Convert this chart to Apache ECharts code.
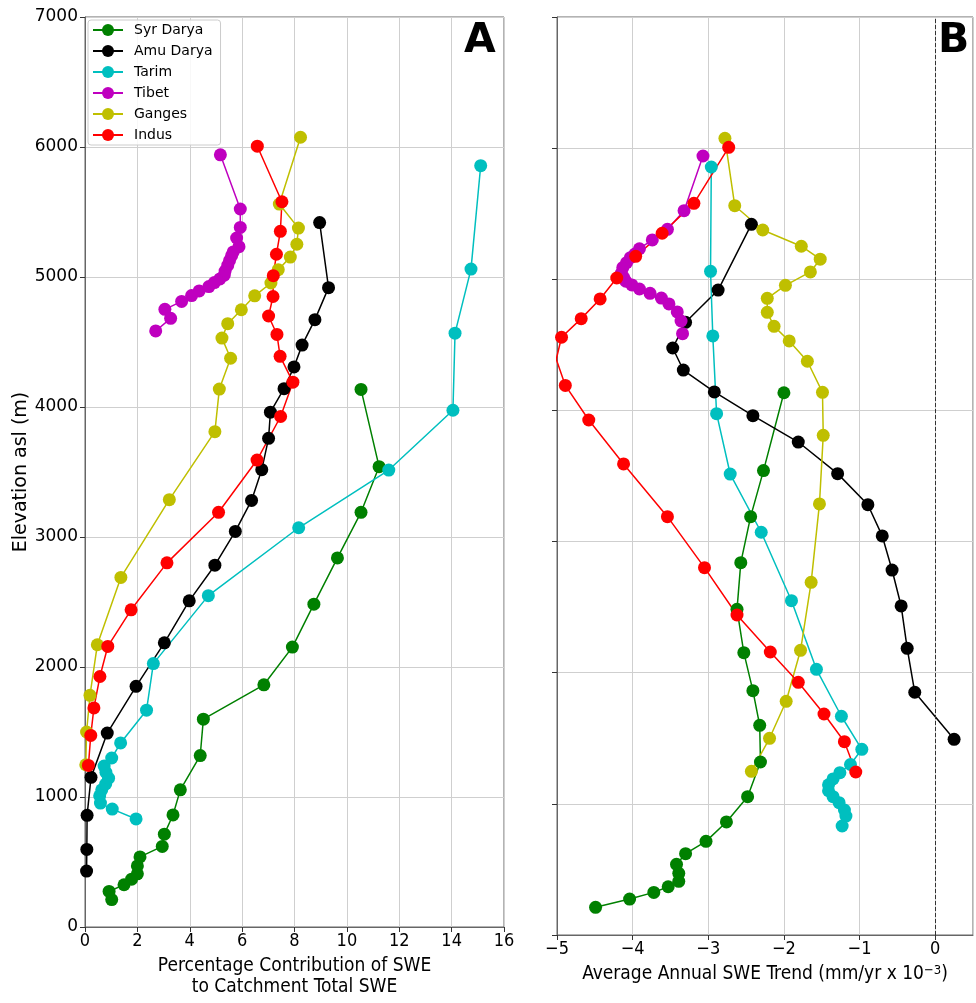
<!DOCTYPE html>
<html><head><meta charset="utf-8">
<script src="https://cdn.jsdelivr.net/npm/echarts@6/dist/echarts.min.js"></script>
<style>html,body{margin:0;padding:0;background:#fff}#c{width:976px;height:1003px}</style>
</head><body><div id="c"></div>
<script>
const riverNames = ['Syr Darya','Amu Darya','Tarim','Tibet','Ganges','Indus'];
const riverColors = ['#008000','#000000','#00bfbf','#bf00bf','#bfbf00','#ff0000'];

const syrElev  = [211,274,325,368,409,470,539,620,714,862,1055,1319,1599,1863,2153,2483,2839,3190,3541,4135];
const syrPct   = [1.02,0.92,1.49,1.78,2.0,2.0,2.1,2.95,3.03,3.36,3.64,4.40,4.52,6.83,7.92,8.74,9.64,10.54,11.23,10.54];
const syrTrend = [-4.49,-4.04,-3.72,-3.53,-3.39,-3.39,-3.42,-3.30,-3.03,-2.76,-2.48,-2.31,-2.32,-2.41,-2.53,-2.62,-2.57,-2.44,-2.27,-2.00];

const amuElev  = [430,597,859,1151,1492,1851,2186,2509,2783,3043,3281,3518,3759,3960,4141,4308,4476,4672,4918,5419];
const amuPct   = [0.06,0.07,0.08,0.23,0.85,1.95,3.03,3.98,4.96,5.74,6.36,6.75,7.01,7.08,7.60,7.98,8.29,8.78,9.30,8.96];
const amuTrend = [null,null,null,null,0.25,-0.27,-0.37,-0.45,-0.57,-0.70,-0.89,-1.29,-1.81,-2.41,-2.92,-3.33,-3.47,-3.30,-2.87,-2.43];

const tarElev  = [831,907,953,1009,1055,1100,1145,1190,1238,1300,1416,1668,2026,2549,3071,3515,3975,4568,5061,5856];
const tarPct   = [1.95,1.04,0.59,0.56,0.64,0.79,0.90,0.80,0.73,1.02,1.36,2.35,2.61,4.71,8.16,11.60,14.05,14.13,14.74,15.11];
const tarTrend = [-1.23,-1.18,-1.20,-1.27,-1.35,-1.41,-1.41,-1.35,-1.26,-1.12,-0.97,-1.24,-1.57,-1.90,-2.30,-2.71,-2.89,-2.94,-2.97,-2.96];

const tibElev  = [4585,4682,4751,4812,4857,4893,4926,4957,4985,5015,5046,5089,5127,5165,5193,5233,5300,5381,5523,5940];
const tibPct   = [2.70,3.27,3.05,3.69,4.07,4.36,4.73,4.94,5.15,5.32,5.35,5.45,5.52,5.60,5.66,5.88,5.79,5.93,5.93,5.17];
const tibTrend = [-3.34,-3.36,-3.41,-3.52,-3.62,-3.77,-3.91,-4.01,-4.09,-4.12,-4.15,-4.13,-4.08,-4.03,-3.97,-3.91,-3.74,-3.54,-3.32,-3.07];

const ganElev  = [1248,1500,1782,2171,2689,3287,3810,4138,4375,4530,4641,4748,4855,4954,5056,5153,5252,5376,5561,6075];
const ganPct   = [0.03,0.06,0.19,0.47,1.37,3.22,4.96,5.13,5.56,5.23,5.45,5.97,6.48,7.10,7.38,7.84,8.09,8.15,7.42,8.23];
const ganTrend = [-2.43,-2.19,-1.97,-1.78,-1.64,-1.53,-1.48,-1.49,-1.69,-1.93,-2.13,-2.22,-2.22,-1.98,-1.65,-1.52,-1.77,-2.28,-2.65,-2.78];

const indElev  = [1243,1474,1685,1927,2158,2440,2801,3190,3592,3927,4191,4390,4558,4700,4850,5010,5175,5351,5579,6006];
const indPct   = [0.13,0.22,0.34,0.57,0.87,1.76,3.13,5.10,6.57,7.47,7.94,7.45,7.33,7.01,7.18,7.19,7.31,7.46,7.52,6.58];
const indTrend = [-1.05,-1.20,-1.47,-1.81,-2.18,-2.62,-3.05,-3.54,-4.12,-4.58,-4.89,-5.01,-4.94,-4.68,-4.43,-4.21,-3.96,-3.61,-3.19,-2.73];

const pctTicks = [0,2,4,6,8,10,12,14,16];
const trendTicks = [-5,-4,-3,-2,-1,0];
const elevTicks = [0,1000,2000,3000,4000,5000,6000,7000];

const elevs = [syrElev,amuElev,tarElev,tibElev,ganElev,indElev];
const pcts = [syrPct,amuPct,tarPct,tibPct,ganPct,indPct];
const trends = [syrTrend,amuTrend,tarTrend,tibTrend,ganTrend,indTrend];

const chart = echarts.init(document.getElementById('c'), null, {renderer:'canvas'});
const FONT = 'DejaVu Sans';
const FONTC = 'DejaVu Sans Condensed';
const spine = '#666';
const gridCol = '#cfcfcf';
const minus = v => (v < 0 ? '\u2212' + Math.abs(v) : String(v));

const series = [];
riverNames.forEach((n,i) => {
  series.push({
    name:n, type:'line', xAxisIndex:0, yAxisIndex:0,
    data: elevs[i].map((e,k)=>[pcts[i][k], e]),
    symbol:'circle', symbolSize:13, showAllSymbol:true,
    itemStyle:{color:riverColors[i]}, lineStyle:{color:riverColors[i], width:1.5},
    emphasis:{disabled:true}, animation:false, clip:true
  });
});
riverNames.forEach((n,i) => {
  const d = [];
  elevs[i].forEach((e,k)=>{ if (trends[i][k] !== null) d.push([trends[i][k], e]); });
  const s = {
    name:n, type:'line', xAxisIndex:1, yAxisIndex:1,
    data: d,
    symbol:'circle', symbolSize:13, showAllSymbol:true,
    itemStyle:{color:riverColors[i]}, lineStyle:{color:riverColors[i], width:1.5},
    emphasis:{disabled:true}, animation:false, clip:true
  };
  if (i === 0) {
    s.markLine = {silent:true, symbol:['none','none'], label:{show:false},
      lineStyle:{color:'#333', type:[4,2], width:1}, data:[{xAxis:0}], animation:false};
  }
  series.push(s);
});

const xBase = {
  type:'value',
  axisLine:{show:true, onZero:false, lineStyle:{color:spine, width:1}},
  axisTick:{show:true, length:5, lineStyle:{color:'#333'}},
  splitLine:{show:true, lineStyle:{color:gridCol, width:1}},
  axisLabel:{color:'#000', fontFamily:FONTC, fontSize:18, margin:5},
  nameLocation:'middle',
  nameTextStyle:{color:'#000', fontFamily:FONTC, fontSize:19, lineHeight:21}
};
const yBase = {
  type:'value', min:elevTicks[0], max:elevTicks[elevTicks.length-1], interval:1000,
  axisLine:{show:true, onZero:false, lineStyle:{color:spine, width:1}},
  axisTick:{show:true, length:5, lineStyle:{color:'#333'}},
  splitLine:{show:true, lineStyle:{color:gridCol, width:1}}
};

chart.setOption({
  animation:false,
  textStyle:{fontFamily:FONT},
  title:[
    {text:'A', left:459, top:16, textStyle:{fontFamily:FONT, fontSize:41, fontWeight:'bold', color:'#000'}},
    {text:'B', left:933, top:16, textStyle:{fontFamily:FONT, fontSize:41, fontWeight:'bold', color:'#000'}}
  ],
  legend:{
    data:riverNames, orient:'vertical', left:88, top:20,
    itemWidth:30, itemHeight:15, itemGap:7,
    backgroundColor:'rgba(255,255,255,0.85)', borderColor:'#cccccc', borderWidth:1, borderRadius:3,
    padding:[3,8,3,4],
    textStyle:{fontFamily:FONT, fontSize:14, color:'#000', padding:[0,0,0,6]}
  },
  grid:[
    {left:85, top:17, width:419, height:918, show:true, borderColor:spine, borderWidth:1, backgroundColor:'transparent'},
    {left:557, top:17, width:416, height:918, show:true, borderColor:spine, borderWidth:1, backgroundColor:'transparent'}
  ],
  xAxis:[
    Object.assign({}, xBase, {gridIndex:0, min:pctTicks[0], max:pctTicks[pctTicks.length-1], interval:2,
      name:'Percentage Contribution of SWE\nto Catchment Total SWE', nameGap:29,
      axisLabel:Object.assign({}, xBase.axisLabel, {formatter:v=>String(v)})}),
    Object.assign({}, xBase, {gridIndex:1, min:trendTicks[0], max:0.5, interval:1,
      name:'Average Annual SWE Trend (mm/yr x 10{sup|\u22123})', nameGap:29,
      nameTextStyle:Object.assign({}, xBase.nameTextStyle, {rich:{sup:{fontFamily:FONTC, fontSize:13, verticalAlign:'top', padding:[0,0,8,0], color:'#000'}}}),
      axisLabel:Object.assign({}, xBase.axisLabel, {showMaxLabel:false, formatter:v=> (Number.isInteger(v) && trendTicks.indexOf(v)>=0) ? minus(v) : ''})})
  ],
  yAxis:[
    Object.assign({}, yBase, {gridIndex:0,
      axisLabel:{color:'#000', fontFamily:FONT, fontSize:17, margin:7, formatter:v=>String(v)},
      name:'Elevation asl (m)', nameLocation:'middle', nameRotate:90, nameGap:53,
      nameTextStyle:{color:'#000', fontFamily:FONT, fontSize:19}}),
    Object.assign({}, yBase, {gridIndex:1, axisLabel:{show:false}})
  ],
  series:series
});
</script></body></html>
